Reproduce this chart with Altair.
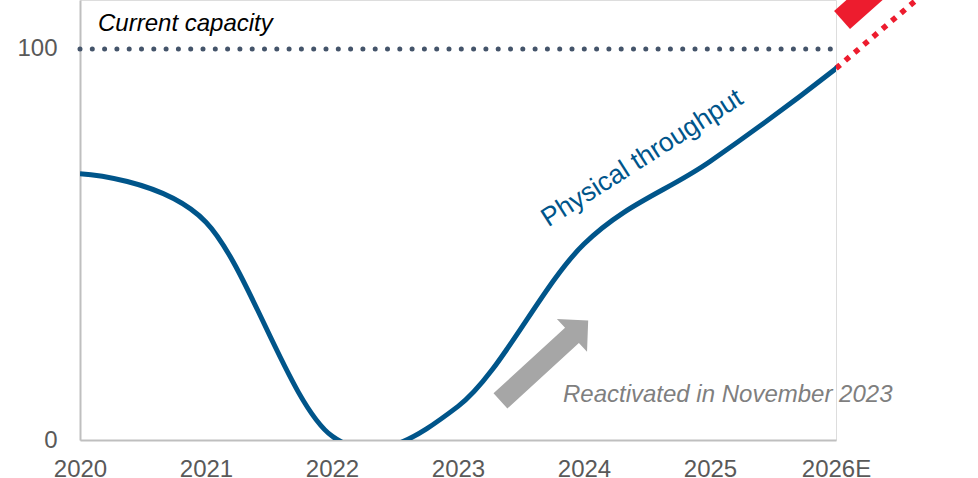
import altair as alt
import pandas as pd

# Physical throughput by year
years = [2020, 2021, 2022, 2023, 2024, 2025, 2026]
throughput = [68.1, 55.7, 1.0, 8.6, 50.1, 71.2, 95.0]

# Current capacity level
capacity_x = [2020.0, 2026.0]
capacity_y = [100.0, 100.0]

# Expansion beyond current capacity (dotted red) and the red arrow body
outlook_x = [2026.0, 2026.75]
outlook_y = [95.0, 115.6]
red_arrow_x = [2026.048, 2026.405]
red_arrow_y = [107.4, 117.6]

# Grey arrow anchor
grey_arrow_x = [2023.688]
grey_arrow_y = [20.36]

tick_years = [2020, 2021, 2022, 2023, 2024, 2025, 2026]

FONT = "Liberation Sans"
BLUE = "#00558a"
RED = "#ed1c2e"
GREY = "#a6a6a6"

xs = alt.Scale(domain=[2020, 2026], nice=False, zero=False)
ys = alt.Scale(domain=[0, 112.5], nice=False, zero=False)
x_axis = alt.Axis(
    title=None, values=tick_years, format="d",
    labelExpr="datum.value == 2026 ? '2026E' : datum.label",
    ticks=False, grid=False, domainColor="#bfbfbf", domainWidth=2,
    labelFont=FONT, labelFontSize=24, labelColor="#595959",
    labelPadding=17, labelFlush=False, labelOverlap=False,
)
y_axis = alt.Axis(
    title=None, values=[0, 100], ticks=False, grid=False,
    domainColor="#bfbfbf", domainWidth=2,
    labelFont=FONT, labelFontSize=24, labelColor="#595959",
    labelPadding=23, labelFlush=False, labelOverlap=False,
)


def X(field):
    return alt.X(field, type="quantitative", scale=xs, axis=x_axis)


def Y(field):
    return alt.Y(field, type="quantitative", scale=ys, axis=y_axis)


# The smoothed curve continues into the outlook so that it leaves 2026 along
# the red path; the plot-area clip trims everything right of 2026.
line_df = pd.DataFrame({"year": years + [outlook_x[1]],
                        "value": throughput + [outlook_y[1]]})
cap_df = pd.DataFrame({"year": capacity_x, "value": capacity_y})
out_df = pd.DataFrame({"year": outlook_x, "value": outlook_y})
red_df = pd.DataFrame({"x1": [red_arrow_x[0]], "x2": [red_arrow_x[1]],
                       "y1": [red_arrow_y[0]], "y2": [red_arrow_y[1]]})
grey_df = pd.DataFrame({"year": grey_arrow_x, "value": grey_arrow_y})

throughput_line = alt.Chart(line_df).mark_line(
    color=BLUE, strokeWidth=5, interpolate="cardinal", tension=0, clip=True
).encode(x=X("year"), y=Y("value"), order="year:Q")

capacity_line = alt.Chart(cap_df).mark_line(
    color="#44546a", strokeWidth=5, strokeCap="round", strokeDash=[0, 12.3]
).encode(x=X("year"), y=Y("value"))

outlook_line = alt.Chart(out_df).mark_line(
    color=RED, strokeWidth=5.5, strokeCap="butt", strokeDash=[5.5, 6.7], clip=False
).encode(x=X("year"), y=Y("value"))

red_arrow = alt.Chart(red_df).mark_rule(
    color=RED, strokeWidth=24, strokeCap="butt", clip=False
).encode(x=X("x1"), x2="x2", y=Y("y1"), y2="y2")

# Arrow outline drawn in pixel units (size 4 gives a scale of 1)
arrow_path = "M-60,-10.25 L37,-10.25 L37,-22.3 L59,0 L37,22.3 L37,10.25 L-60,10.25 Z"
grey_arrow = alt.Chart(grey_df).mark_point(
    shape=arrow_path, size=4, angle=317.5, filled=True, color=GREY,
    opacity=1, strokeWidth=0
).encode(x=X("year"), y=Y("value"))

cap_label = alt.Chart(pd.DataFrame({"year": [2020.143], "value": [104.5],
                                    "t": ["Current capacity"]})).mark_text(
    font=FONT, fontSize=24, fontStyle="italic", color="#000000",
    align="left", baseline="alphabetic"
).encode(x=X("year"), y=Y("value"), text="t")

react_label = alt.Chart(pd.DataFrame({"year": [2023.833], "value": [9.6],
                                      "t": ["Reactivated in November 2023"]})).mark_text(
    font=FONT, fontSize=24, fontStyle="italic", color="#7f7f7f",
    align="left", baseline="alphabetic"
).encode(x=X("year"), y=Y("value"), text="t")

series_label = alt.Chart(pd.DataFrame({"year": [2024.496], "value": [70.3],
                                       "t": ["Physical throughput"]})).mark_text(
    font=FONT, fontSize=26.5, color=BLUE, angle=327.5,
    align="center", baseline="alphabetic"
).encode(x=X("year"), y=Y("value"), text="t")

chart = alt.layer(
    capacity_line, outlook_line, red_arrow, throughput_line, grey_arrow,
    cap_label, react_label, series_label
).properties(
    width=756, height=440,
    autosize=alt.AutoSizeParams(type="none"),
    padding={"left": 80, "top": 0, "right": 142, "bottom": 38},
).configure_view(stroke=None).configure(background="white")

chart.save("out.html", embed_options={"renderer": "svg", "actions": False})
